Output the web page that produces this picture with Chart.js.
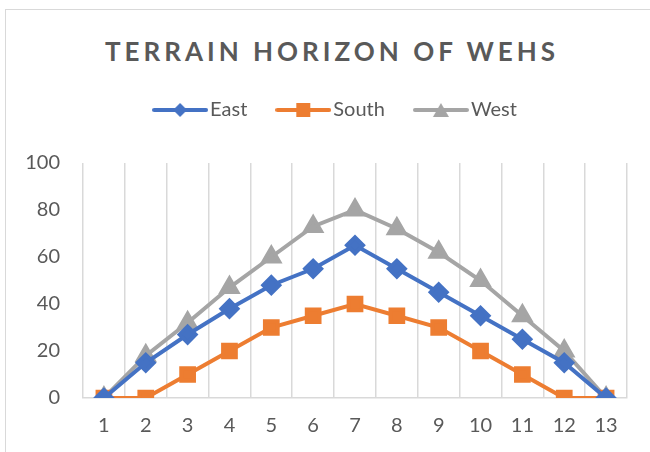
<!DOCTYPE html>
<html>
<head>
<meta charset="utf-8">
<script src="https://cdn.jsdelivr.net/npm/chart.js@4.4.0/dist/chart.umd.min.js"></script>
<style>
  html, body { margin: 0; padding: 0; background: #fff; }
  #wrap { position: relative; width: 650px; height: 452px; overflow: hidden; }
  #frame { position: absolute; left: 5px; top: 9px; width: 660px; height: 460px; border: 1px solid #d9d9d9; box-sizing: border-box; }
  #title { position: absolute; left: 0; width: 664px; top: 35px; text-align: center; font-family: Lato, sans-serif; font-weight: bold; font-size: 26px; letter-spacing: 4px; color: #595959; }
  canvas { position: absolute; left: 0; top: 0; }
</style>
</head>
<body>
<div id="wrap">
  <div id="frame"></div>
  <div id="title">TERRAIN HORIZON OF WEHS</div>
  <canvas id="chart" width="650" height="452"></canvas>
</div>
<script>
const categories = ["1","2","3","4","5","6","7","8","9","10","11","12","13"];
const east  = [0, 15, 27, 38, 48, 55, 65, 55, 45, 35, 25, 15, 0];
const south = [0, 0, 10, 20, 30, 35, 40, 35, 30, 20, 10, 0, 0];
const west  = [0, 18, 32, 47, 60, 73, 80, 72, 62, 50, 35, 20, 0];
const yTicks = [0, 20, 40, 60, 80, 100];

const colors = { east: "#4472C4", south: "#ED7D31", west: "#A5A5A5" };

// small line+marker icon for the legend, Excel style
function legendIcon(color, style) {
    let c = document.createElement("canvas");
    c.width = 56; c.height = 18;
    let g = c.getContext("2d");
    g.strokeStyle = color;
    g.lineWidth = 4;
    g.lineCap = "round";
    g.beginPath();
    g.moveTo(2, 9); g.lineTo(54, 9);
    g.stroke();
    g.fillStyle = color;
    g.beginPath();
    if (style === "diamond") {
        g.moveTo(28, 2); g.lineTo(35, 9); g.lineTo(28, 16); g.lineTo(21, 9);
    } else if (style === "square") {
        g.rect(21, 2, 14, 14);
    } else {
        g.moveTo(28, 2); g.lineTo(36, 16); g.lineTo(20, 16);
    }
    g.closePath();
    g.fill();
    return c;
}

const icons = [
    legendIcon(colors.east, "diamond"),
    legendIcon(colors.south, "square"),
    legendIcon(colors.west, "triangle")
];

// push the plot area down below the legend, and nudge the legend right
const legendSpace = {
    id: "legendSpace",
    beforeInit(chart) {
        const fit = chart.legend.fit;
        chart.legend.fit = function () {
            fit.bind(chart.legend)();
            this.height += 33;
        };
    },
    afterLayout(chart) {
        chart.legend.left += 15;
        chart.legend.right += 15;
    }
};

new Chart("chart", {
    type: "line",
    data: {
        labels: categories,
        datasets: [
            {
                label: "East",
                data: east,
                borderColor: colors.east,
                backgroundColor: colors.east,
                borderWidth: 4,
                pointStyle: "rectRot",
                pointRadius: 8,
                pointHoverRadius: 8
            },
            {
                label: "South",
                data: south,
                borderColor: colors.south,
                backgroundColor: colors.south,
                borderWidth: 4,
                pointStyle: "rect",
                pointRadius: 9,
                pointHoverRadius: 9
            },
            {
                label: "West",
                data: west,
                borderColor: colors.west,
                backgroundColor: colors.west,
                borderWidth: 4,
                pointStyle: "triangle",
                pointRadius: 9,
                pointHoverRadius: 9
            }
        ]
    },
    options: {
        responsive: false,
        animation: false,
        layout: { padding: { top: 64, left: 20, right: 23, bottom: 10 } },
        plugins: {
            tooltip: { enabled: false },
            legend: {
                position: "top",
                labels: {
                    font: { family: "Lato", size: 20 },
                    color: "#595959",
                    padding: 36,
                    usePointStyle: true,
                    pointStyleWidth: 40,
                    generateLabels(chart) {
                        return chart.data.datasets.map((ds, i) => ({
                            text: ds.label,
                            pointStyle: icons[i],
                            fillStyle: ds.borderColor,
                            strokeStyle: ds.borderColor,
                            lineWidth: 0,
                            fontColor: "#595959",
                            datasetIndex: i
                        }));
                    }
                }
            }
        },
        scales: {
            x: {
                offset: true,
                grid: { offset: true, color: "#d9d9d9", lineWidth: 1.5, drawTicks: false },
                border: { color: "#d9d9d9", width: 1.5 },
                ticks: { font: { family: "Lato", size: 20 }, color: "#595959", padding: 16 },
                afterFit(s) { s.height = 44; }
            },
            y: {
                min: 0,
                max: 100,
                afterBuildTicks(s) { s.ticks = yTicks.map(v => ({ value: v })); },
                grid: { display: false },
                border: { display: false },
                ticks: { font: { family: "Lato", size: 20 }, color: "#595959", padding: 15 },
                afterFit(s) { s.width = 63; }
            }
        }
    },
    plugins: [legendSpace]
});
</script>
</body>
</html>
